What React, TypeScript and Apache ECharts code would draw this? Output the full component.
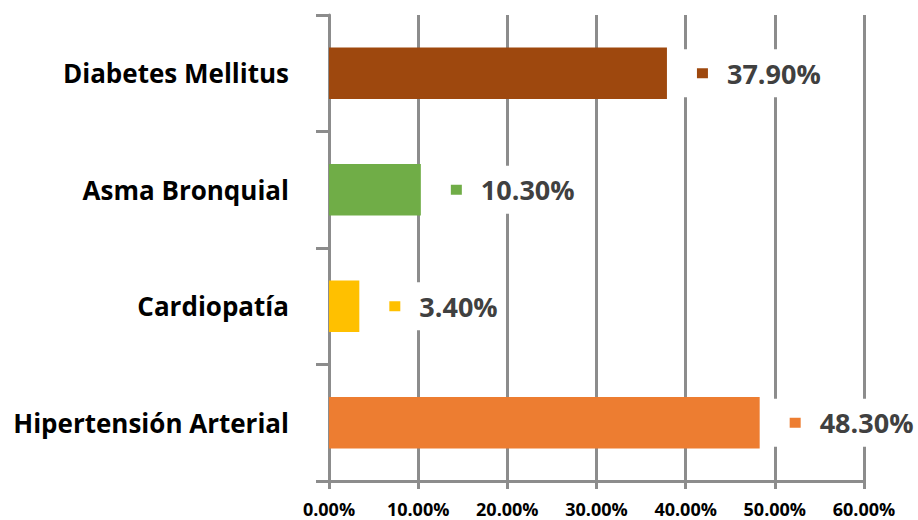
import React, { useEffect, useRef } from "react";
import * as echarts from "echarts";

const categories = ["Hipertensión Arterial", "Cardiopatía", "Asma Bronquial", "Diabetes Mellitus"];
const values = [48.3, 3.4, 10.3, 37.9];
const colors = ["#ED7D31", "#FFC000", "#70AD47", "#9E480E"];
const xMin = 0;
const xMax = 60;
const xInterval = 10;

const GRID_COLOR = "#8C8C8C";
const FONT = "'Open Sans', 'Noto Sans', sans-serif";

export default function App() {
  const ref = useRef<HTMLDivElement>(null);

  useEffect(() => {
    document.body.style.margin = "0";
    if (!ref.current) return;
    const chart = echarts.init(ref.current, undefined, { renderer: "svg" });

    const rich: Record<string, any> = {
      v: {
        fontFamily: FONT,
        fontSize: 27,
        fontWeight: "bold",
        color: "#404040",
        lineHeight: 30,
        padding: [0, 0, 0, 19],
      },
    };
    colors.forEach((c, i) => {
      rich["sq" + i] = { width: 11, height: 10, backgroundColor: c };
    });

    chart.setOption({
      animation: false,
      backgroundColor: "#ffffff",
      grid: { left: 329, right: 54, top: 15, bottom: 39, containLabel: false },
      xAxis: {
        type: "value",
        min: xMin,
        max: xMax,
        interval: xInterval,
        axisLine: { show: true, lineStyle: { color: GRID_COLOR, width: 3 } },
        axisTick: { show: true, length: 8, lineStyle: { color: GRID_COLOR, width: 3 } },
        splitLine: { show: true, lineStyle: { color: GRID_COLOR, width: 3 } },
        axisLabel: {
          margin: 19,
          fontFamily: FONT,
          fontSize: 18,
          fontWeight: "bold",
          color: "#000000",
          formatter: (v: number) => v.toFixed(2) + "%",
        },
      },
      yAxis: {
        type: "category",
        data: categories,
        axisLine: { show: true, lineStyle: { color: GRID_COLOR, width: 3 } },
        axisTick: { show: true, length: 13, lineStyle: { color: GRID_COLOR, width: 3 } },
        splitLine: { show: false },
        axisLabel: {
          margin: 40,
          fontFamily: FONT,
          fontSize: 26,
          fontWeight: "bold",
          color: "#000000",
        },
      },
      series: [
        {
          type: "bar",
          barCategoryGap: "56%",
          data: values.map((v, i) => ({ value: v, itemStyle: { color: colors[i] } })),
          label: {
            show: true,
            position: "right",
            distance: 6,
            backgroundColor: "#ffffff",
            padding: [9, 4, 9, 24],
            formatter: (p: any) => `{sq${p.dataIndex}|}{v|${Number(p.value).toFixed(2)}%}`,
            rich,
          },
        },
      ],
    });

    return () => chart.dispose();
  }, []);

  return <div ref={ref} style={{ width: 918, height: 520 }} />;
}
